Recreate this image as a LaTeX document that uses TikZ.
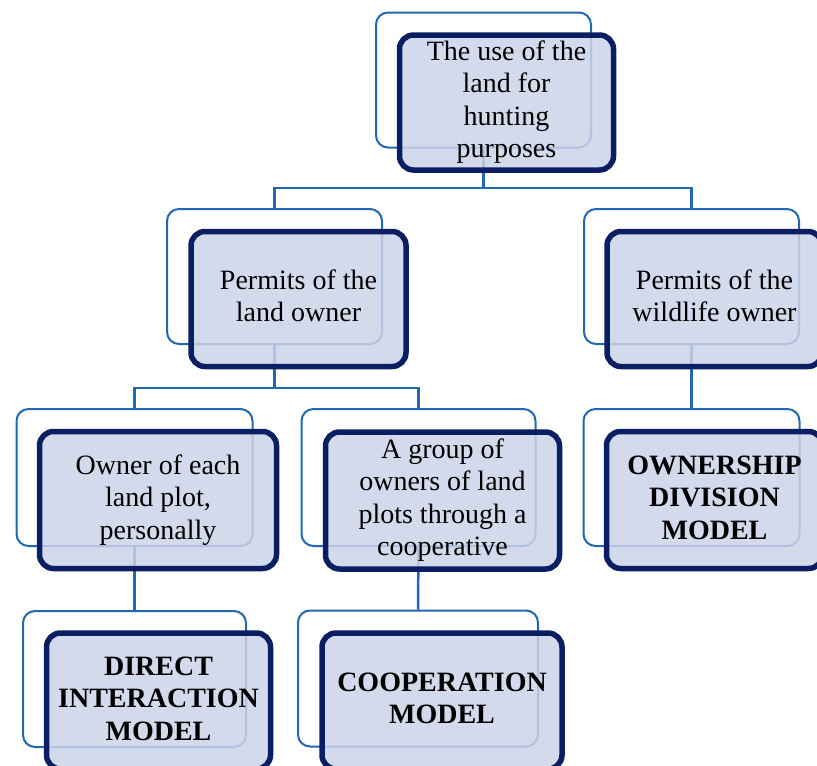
\documentclass[tikz,border=0pt]{standalone}
\usepackage{fontspec}
\setmainfont{Liberation Serif}
\usetikzlibrary{positioning}

\definecolor{outlineblue}{RGB}{33,104,176}
\definecolor{navyedge}{RGB}{10,30,100}
\definecolor{boxfill}{RGB}{203,211,233}

% centred lines of box text, set a little low in the box
\newcommand{\boxlines}[1]{\raisebox{-3pt}{\begin{tabular}{@{}c@{}}#1\end{tabular}}}

\tikzset{
  backbox/.style={draw=outlineblue, line width=2pt, rounded corners=12pt,
    minimum width=#1, minimum height=135pt, inner sep=0pt},
  frontbox/.style={draw=navyedge, line width=5.5pt, rounded corners=14pt,
    fill=boxfill, fill opacity=0.85, text opacity=1,
    minimum width=#1, minimum height=135pt, inner sep=0pt,
    font=\fontsize{28pt}{32.5pt}\selectfont},
  link/.style={draw=outlineblue, line width=2.5pt},
  boldtext/.style={font=\fontsize{28pt}{32.5pt}\selectfont\bfseries}
}

\begin{document}
\begin{tikzpicture}[x=1pt, y=-1pt]
  \useasboundingbox (0,0) rectangle (817,766);
  \clip (0,0) rectangle (817,766);

  % outline boxes behind each entry
  \node[backbox=215pt] (Ab) at (483.5,80) {};
  \node[backbox=215pt] (Bb) at (274.5,276.5) {};
  \node[backbox=215pt] (Cb) at (691.5,276.5) {};
  \node[backbox=236pt, minimum height=137pt] (Db) at (134.5,477.5) {};
  \node[backbox=234pt, minimum height=137pt] (Eb) at (418.5,477.5) {};
  \node[backbox=216pt, minimum height=137pt] (Fb) at (691.5,477.5) {};
  \node[backbox=223pt, minimum height=136pt] (Gb) at (134.5,679) {};
  \node[backbox=240pt, minimum height=136pt] (Hb) at (418,678.5) {};

  % tree connectors
  \coordinate (j1) at (483.5,188);
  \coordinate (j2) at (274.5,388);
  \draw[link] (Ab.south) -- (j1);
  \draw[link] (Bb.north) |- (j1) -| (Cb.north);
  \draw[link] (Bb.south) -- (j2);
  \draw[link] (Db.north) |- (j2) -| (Eb.north);
  \draw[link] (Cb.south) -- (Fb.north);
  \draw[link] (Db.south) -- (Gb.north);
  \draw[link] (Eb.south) -- (Hb.north);

  % filled entries
  \node[frontbox=214pt] (A) at (506.5,102.5) {\boxlines{The use of the\\land for\\hunting\\purposes}};
  \node[frontbox=215pt] (B) at (298.5,299) {\boxlines{Permits of the\\land owner}};
  \node[frontbox=215pt] (C) at (714.5,299) {\boxlines{Permits of the\\wildlife owner}};
  \node[frontbox=237pt, minimum height=137pt] (D) at (158,500) {\boxlines{Owner of each\\land plot,\\personally}};
  \node[frontbox=234pt, minimum height=137pt] (E) at (442.5,500.5) {\boxlines{A group of\\owners of land\\plots through a\\cooperative}};
  \node[frontbox=216pt, minimum height=137pt, boldtext] (F) at (714.5,500) {\boxlines{OWNERSHIP\\DIVISION\\MODEL}};
  \node[frontbox=224pt, minimum height=136pt, boldtext] (G) at (158.5,701) {\boxlines{DIRECT\\INTERACTION\\MODEL}};
  \node[frontbox=240pt, minimum height=136pt, boldtext] (H) at (442,701) {\boxlines{COOPERATION\\MODEL}};
\end{tikzpicture}
\end{document}
